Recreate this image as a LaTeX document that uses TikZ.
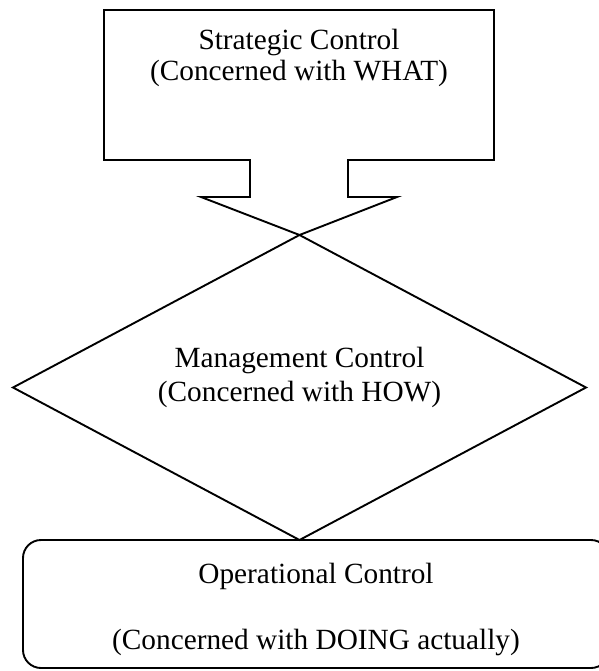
\documentclass[tikz,border=0pt]{standalone}
\usepackage{fontspec}
\setmainfont{Liberation Serif}
\usetikzlibrary{shapes.geometric}
\begin{document}
\begin{tikzpicture}[x=1pt,y=-1pt,
  outline/.style={draw=black, line width=1.9pt, line join=miter},
  caption/.style={anchor=base, inner sep=0pt, font=\fontsize{29.3}{33}\selectfont},
]
\useasboundingbox (0,0) rectangle (598,671);

% management level: the wide diamond
\node[outline, diamond, aspect=1.88, minimum width=573pt, minimum height=305pt,
      inner sep=0pt, outer sep=0pt] (mgmt) at (299.5,387.5) {};

% operational level: rounded box, running on past the right edge
\node[outline, rectangle, rounded corners=18pt, minimum width=586pt,
      minimum height=128pt, inner sep=0pt, outer sep=0pt] (oper) at (316,604) {};

% strategic level: box with a downward block arrow whose point meets the diamond
\draw[outline] (104,10) -- (494,10) -- (494,160) -- (348,160) -- (348,197)
  -- (397,197) -- (mgmt.north) -- (201,197) -- (250,197) -- (250,160)
  -- (104,160) -- cycle;

% labels
\node[caption] (stratA) at (299,50) {Strategic Control};
\node[caption] (stratB) at (299,81) {(Concerned with WHAT)};
\node[caption] (mgmtA) at (299.5,367) {Management Control};
\node[caption] (mgmtB) at (299.5,401.5) {(Concerned with HOW)};
\node[caption] (operA) at (316,583.5) {Operational Control};
\node[caption] (operB) at (316,649) {(Concerned with DOING actually)};
\end{tikzpicture}
\end{document}
